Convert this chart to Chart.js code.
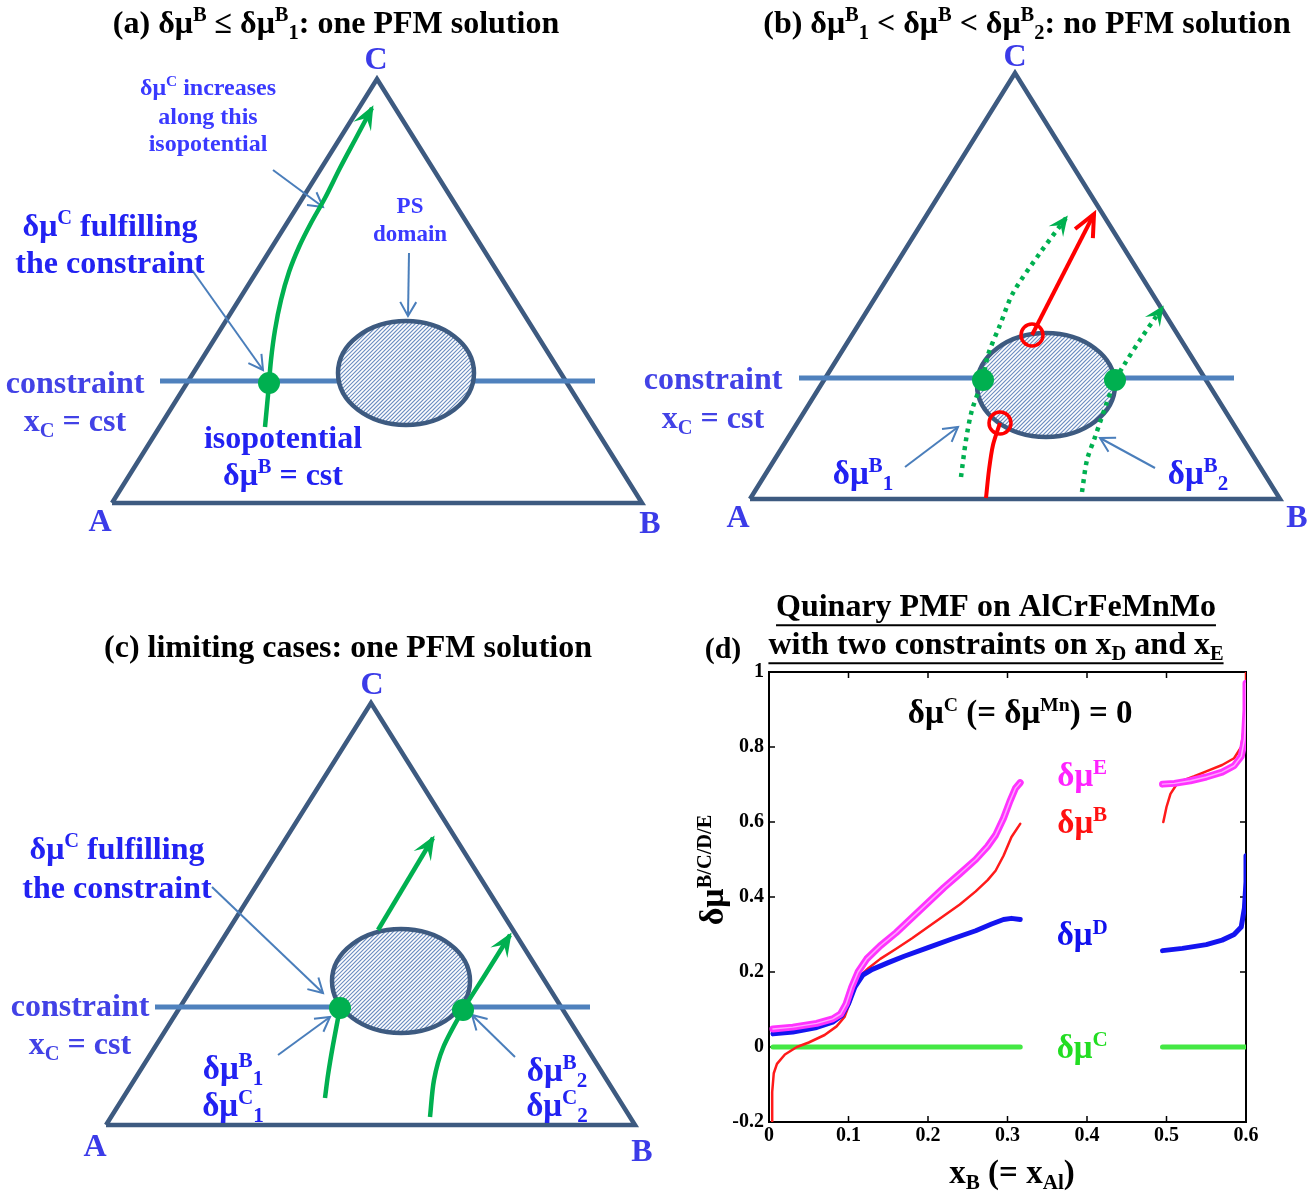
<!DOCTYPE html>
<html><head><meta charset="utf-8">
<script src="https://cdn.jsdelivr.net/npm/chart.js@4.4.1/dist/chart.umd.min.js"></script>
<style>
html,body{margin:0;padding:0;background:#fff;}
#wrap{position:relative;width:1316px;height:1194px;overflow:hidden;}
#c1{position:absolute;left:0;top:0;}
#c2{position:absolute;left:690px;top:580px;}
</style></head><body>
<div id="wrap"><canvas id="c1" width="1316" height="1194"></canvas><canvas id="c2" width="626" height="614"></canvas></div>
<script>
// ===================== Panel (d) data =====================
const xTicks = [0, 0.1, 0.2, 0.3, 0.4, 0.5, 0.6];
const yTicks = [-0.2, 0, 0.2, 0.4, 0.6, 0.8, 1];

const xE_left = [0.005,0.03,0.06,0.08,0.09,0.097,0.104,0.112,0.123,0.14,0.16,0.18,0.2,0.22,0.24,0.26,0.275,0.285,0.295,0.303,0.31,0.316];
const muE_left = [0.048,0.053,0.063,0.075,0.088,0.115,0.16,0.2,0.235,0.27,0.305,0.345,0.385,0.425,0.462,0.5,0.535,0.565,0.61,0.655,0.69,0.705];
const xE_right = [0.495,0.51,0.53,0.55,0.57,0.585,0.594,0.598,0.6,0.6];
const muE_right = [0.701,0.703,0.71,0.72,0.733,0.75,0.775,0.82,0.9,0.97];

const xB_left = [0.004,0.004,0.006,0.01,0.02,0.035,0.05,0.07,0.085,0.095,0.102,0.108,0.115,0.125,0.14,0.16,0.18,0.2,0.22,0.24,0.26,0.275,0.285,0.295,0.305,0.316];
const muB_left = [-0.2,-0.12,-0.07,-0.045,-0.02,0.0,0.012,0.032,0.055,0.08,0.12,0.16,0.19,0.21,0.235,0.262,0.29,0.32,0.35,0.38,0.415,0.445,0.47,0.51,0.56,0.595];
const xB_right = [0.496,0.5,0.505,0.512,0.52,0.535,0.55,0.57,0.585,0.594,0.598,0.6,0.6];
const muB_right = [0.6,0.64,0.675,0.698,0.71,0.722,0.735,0.752,0.77,0.8,0.86,0.93,1.0];

const xD_left = [0.005,0.03,0.06,0.08,0.092,0.1,0.108,0.118,0.13,0.15,0.17,0.2,0.23,0.26,0.28,0.295,0.305,0.316];
const muD_left = [0.035,0.04,0.052,0.066,0.085,0.115,0.16,0.192,0.207,0.225,0.242,0.265,0.288,0.31,0.328,0.34,0.343,0.34];
const xD_right = [0.495,0.52,0.55,0.57,0.585,0.594,0.598,0.6,0.6];
const muD_right = [0.257,0.263,0.273,0.285,0.3,0.32,0.37,0.44,0.51];

const xC_left = [0.005, 0.316];
const muC_left = [0, 0];
const xC_right = [0.495, 0.6];
const muC_right = [0, 0];

// ===================== Panels (a)(b)(c) schematic data (diagram units) =====================
const triA = [[112,503],[642,503],[377,79],[112,503]];
const triB = [[750,499],[1280,499],[1015,73],[750,499]];
const triC = [[106,1125],[635,1125],[371,703],[106,1125]];

const consA = [[160,381],[595,381]];
const consB = [[799,378],[1234,378]];
const consC = [[155,1007],[590,1007]];

const ellCX = [406, 1046, 401];
const ellCY = [373, 385, 981];
const ellRX = [68, 69, 69];
const ellRY = [52, 52, 52];

const isoA = [[265,427],[268,395],[271,360],[275,330],[281,300],[289,272],[299,247],[311,223],[325,198],[340,168],[356,138],[372,108]];
const isoC1 = [[325,1098],[328,1075],[333,1045],[340,1008]];
const isoC2 = [[430,1117],[434,1080],[443,1048],[463,1010],[485,975],[510,935]];
const upC = [[378,930],[433,838]];

const dotB1low = [[961,477],[966,440],[972,410],[983,380]];
const dotB1up = [[983,380],[988,355],[1000,325],[1013,293],[1040,253],[1066,218]];
const dotB2low = [[1082,492],[1087,460],[1095,437],[1106,405],[1115,380]];
const dotB2up = [[1115,380],[1124,365],[1140,340],[1162,308]];
const redLow = [[986,498],[989,470],[993,445],[1000,423]];
const redUp = [[1032,335],[1094,214]];

const greenDots = [[269,383],[983,380],[1115,380],[340,1008],[463,1010]];
const redCircles = [[1032,335],[1000,423]];

const pointers = [
  [[273,170],[323,207]], [[192,270],[263,370]], [[409,253],[408,316]],
  [[905,467],[958,427]], [[1155,468],[1100,438]],
  [[212,887],[323,993]], [[278,1055],[330,1017]], [[515,1057],[472,1015]]
];

// ===================== helpers =====================
const FAM = '"Liberation Serif", "Times New Roman", serif';
const pts = a => a.map(p => ({x:p[0], y:p[1]}));
const TRI = '#3d5a80', CONS = '#4f81bd', GRN = '#00b050', RED = '#ff0000', PTR = '#4a7ebb';

function rich(ctx, x, y, parts, o) {
  const size = o.size, small = size * (o.small || 0.64);
  const ms = []; let total = 0;
  for (const p of parts) {
    const t = typeof p === 'string' ? p : p[0];
    const m = typeof p === 'string' ? '' : p[1];
    const fs = m ? small : size;
    ctx.font = `bold ${fs}px ${FAM}`;
    const wd = ctx.measureText(t).width;
    ms.push([t, m, fs, wd]); total += wd;
  }
  let cx = o.align === 'left' ? x : (o.align === 'right' ? x - total : x - total / 2);
  const x0 = cx;
  const base = y + size * 0.33;
  ctx.fillStyle = o.color; ctx.textBaseline = 'alphabetic'; ctx.textAlign = 'left';
  for (const [t, m, fs, wd] of ms) {
    ctx.font = `bold ${fs}px ${FAM}`;
    const dy = m === 'sup' ? -size * 0.36 : (m === 'sub' ? size * 0.2 : 0);
    ctx.fillText(t, cx, base + dy);
    cx += wd;
  }
  if (o.underline) {
    ctx.strokeStyle = o.color; ctx.lineWidth = 2;
    ctx.beginPath(); ctx.moveTo(x0, base + size*0.3); ctx.lineTo(x0 + total, base + size*0.3); ctx.stroke();
  }
}

function drawHead(ctx, x1, y1, x2, y2, type, color, len, wid, lw) {
  const a = Math.atan2(y2 - y1, x2 - x1);
  ctx.save(); ctx.translate(x2, y2); ctx.rotate(a);
  if (type === 'stealth') {
    ctx.translate(3, 0);
    ctx.beginPath(); ctx.moveTo(0, 0); ctx.lineTo(-len, -wid); ctx.lineTo(-len * 0.6, 0); ctx.lineTo(-len, wid); ctx.closePath();
    ctx.fillStyle = color; ctx.fill();
  } else {
    ctx.beginPath(); ctx.moveTo(-len, -wid); ctx.lineTo(0, 0); ctx.lineTo(-len, wid);
    ctx.strokeStyle = color; ctx.lineWidth = lw; ctx.lineJoin = 'miter'; ctx.stroke();
  }
  ctx.restore();
}

function drawEllipse(chart, i) {
  const {ctx, scales: {x, y}} = chart;
  const cx = x.getPixelForValue(ellCX[i]), cy = y.getPixelForValue(ellCY[i]);
  const rx = Math.abs(x.getPixelForValue(ellCX[i] + ellRX[i]) - cx);
  const ry = Math.abs(y.getPixelForValue(ellCY[i] + ellRY[i]) - cy);
  ctx.save();
  ctx.beginPath(); ctx.ellipse(cx, cy, rx, ry, 0, 0, Math.PI * 2);
  ctx.fillStyle = '#fff'; ctx.fill();
  ctx.clip();
  ctx.strokeStyle = '#6a8cc0'; ctx.lineWidth = 1.1;
  for (let x0 = cx - rx - 2 * ry; x0 < cx + rx; x0 += 4) {
    ctx.beginPath(); ctx.moveTo(x0, cy + ry); ctx.lineTo(x0 + 2 * ry, cy - ry); ctx.stroke();
  }
  ctx.restore();
  ctx.save();
  ctx.beginPath(); ctx.ellipse(cx, cy, rx, ry, 0, 0, Math.PI * 2);
  ctx.strokeStyle = TRI; ctx.lineWidth = 4.5; ctx.stroke();
  ctx.restore();
}

const BL = '#2222f2', LB = '#4242e6', VB = '#3b3be8', SB = '#3a3aff';
const labels = [
  // panel a
  [336, 22, ['(a) δμ', ['B','sup'], ' ≤ δμ', ['B','sup'], ['1','sub'], ': one PFM solution'], 32, '#000'],
  [376, 58, ['C'], 32, VB], [100, 520, ['A'], 32, VB], [650, 522, ['B'], 32, VB],
  [208, 87, ['δμ', ['C','sup'], ' increases'], 24, SB],
  [208, 116, ['along this'], 24, SB],
  [208, 143, ['isopotential'], 24, SB],
  [410, 205, ['PS'], 23, SB], [410, 233, ['domain'], 23, SB],
  [110, 225, ['δμ', ['C','sup'], ' fulfilling'], 32, BL],
  [110, 262, ['the constraint'], 32, BL],
  [75, 382, ['constraint'], 32, LB], [75, 420, ['x', ['C','sub'], ' = cst'], 32, LB],
  [283, 437, ['isopotential'], 32, BL], [283, 474, ['δμ', ['B','sup'], ' = cst'], 32, BL],
  // panel b
  [1027, 22, ['(b) δμ', ['B','sup'], ['1','sub'], ' < δμ', ['B','sup'], ' < δμ', ['B','sup'], ['2','sub'], ': no PFM solution'], 32, '#000'],
  [1015, 55, ['C'], 32, VB], [738, 516, ['A'], 32, VB], [1297, 516, ['B'], 32, VB],
  [713, 378, ['constraint'], 32, LB], [713, 417, ['x', ['C','sub'], ' = cst'], 32, LB],
  [863, 473, ['δμ', ['B','sup'], ['1','sub']], 33, BL], [1198, 473, ['δμ', ['B','sup'], ['2','sub']], 33, BL],
  // panel c
  [348, 646, ['(c) limiting cases: one PFM solution'], 32, '#000'],
  [372, 683, ['C'], 32, VB], [95, 1145, ['A'], 32, VB], [642, 1150, ['B'], 32, VB],
  [117, 848, ['δμ', ['C','sup'], ' fulfilling'], 32, BL], [117, 887, ['the constraint'], 32, BL],
  [80, 1005, ['constraint'], 32, LB], [80, 1043, ['x', ['C','sub'], ' = cst'], 32, LB],
  [233, 1068, ['δμ', ['B','sup'], ['1','sub']], 33, BL], [233, 1105, ['δμ', ['C','sup'], ['1','sub']], 33, BL],
  [557, 1070, ['δμ', ['B','sup'], ['2','sub']], 33, BL], [557, 1105, ['δμ', ['C','sup'], ['2','sub']], 33, BL],
  // panel d titles
  [723, 648, ['(d)'], 30, '#000'],
  [1012, 1172, ['x', ['B','sub'], ' (= x', ['Al','sub'], ')'], 33, '#000'],
];
const underlined = [
  [996, 605, ['Quinary PMF on AlCrFeMnMo'], 32, '#000'],
  [996, 643, ['with two constraints on x', ['D','sub'], ' and x', ['E','sub']], 32, '#000'],
];

// ===================== Chart 1: schematic panels =====================
const lineDS = (arr, color, width, order, extra) => Object.assign({
  data: pts(arr), showLine: true, borderColor: color, borderWidth: width,
  pointRadius: 0, fill: false, order: order, tension: 0
}, extra || {});

const ds1 = [];
[triA, triB, triC].forEach(t => ds1.push(lineDS(t, TRI, 4.5, 10, {borderJoinStyle: 'miter'})));
[consA, consB, consC].forEach((c, i) => ds1.push(lineDS(c, CONS, 5, 9, {ellipseAfter: i})));
pointers.forEach(p => ds1.push(lineDS(p, PTR, 2, 8, {head: 'open', headLen: 14, headWid: 8, headLw: 2})));
ds1.push(lineDS(isoA, GRN, 4.5, 5, {tension: 0.3, head: 'stealth', headLen: 24, headWid: 10}));
ds1.push(lineDS(isoC1, GRN, 4.5, 5, {tension: 0.3}));
ds1.push(lineDS(isoC2, GRN, 4.5, 5, {tension: 0.3, head: 'stealth', headLen: 24, headWid: 10}));
ds1.push(lineDS(upC, GRN, 4.5, 5, {head: 'stealth', headLen: 24, headWid: 10}));
ds1.push(lineDS(dotB1low, GRN, 4.5, 5, {tension: 0.3, borderDash: [4, 5]}));
ds1.push(lineDS(dotB1up, GRN, 4.5, 5, {tension: 0.3, borderDash: [4, 5], head: 'stealth', headLen: 20, headWid: 9}));
ds1.push(lineDS(dotB2low, GRN, 4.5, 5, {tension: 0.3, borderDash: [4, 5]}));
ds1.push(lineDS(dotB2up, GRN, 4.5, 5, {tension: 0.3, borderDash: [4, 5], head: 'stealth', headLen: 20, headWid: 9}));
ds1.push(lineDS(redLow, RED, 4, 5, {tension: 0.3}));
ds1.push(lineDS(redUp, RED, 4, 5, {head: 'open', headLen: 22, headWid: 10, headLw: 4}));
ds1.push({data: pts(greenDots), showLine: false, pointRadius: 11, pointBackgroundColor: GRN, pointBorderWidth: 0, order: 1});
ds1.push({data: pts(redCircles), showLine: false, pointRadius: 11, pointBackgroundColor: 'rgba(0,0,0,0)', pointBorderColor: RED, pointBorderWidth: 3.5, order: 1});

const schematicPlugin = {
  id: 'schematic',
  beforeDraw(chart) {
    const ctx = chart.ctx; ctx.save(); ctx.fillStyle = '#fff'; ctx.fillRect(0, 0, chart.width, chart.height); ctx.restore();
  },
  afterDatasetDraw(chart, args) {
    const ds = chart.data.datasets[args.index];
    const ctx = chart.ctx;
    if (ds.ellipseAfter !== undefined) drawEllipse(chart, ds.ellipseAfter);
    if (ds.head) {
      const d = args.meta.data; const n = d.length;
      drawHead(ctx, d[n - 2].x, d[n - 2].y, d[n - 1].x, d[n - 1].y, ds.head, ds.borderColor, ds.headLen, ds.headWid, ds.headLw);
    }
  },
  afterDraw(chart) {
    const ctx = chart.ctx;
    const sx = chart.scales.x, sy = chart.scales.y;
    labels.forEach(l => rich(ctx, sx.getPixelForValue(l[0]), sy.getPixelForValue(l[1]), l[2], {size: l[3], color: l[4]}));
    underlined.forEach(l => rich(ctx, sx.getPixelForValue(l[0]), sy.getPixelForValue(l[1]), l[2], {size: l[3], color: l[4], underline: true}));
    ctx.save();
    ctx.translate(sx.getPixelForValue(712), sy.getPixelForValue(870));
    ctx.rotate(-Math.PI / 2);
    rich(ctx, 0, 0, ['δμ', ['B/C/D/E', 'sup']], {size: 34, color: '#000', small: 0.6});
    ctx.restore();
  }
};

new Chart(document.getElementById('c1'), {
  type: 'scatter',
  data: {datasets: ds1},
  options: {
    responsive: false, animation: false, events: [],
    layout: {padding: 0, autoPadding: false},
    plugins: {legend: {display: false}, tooltip: {enabled: false}},
    scales: {
      x: {type: 'linear', min: 0, max: 1316, display: false},
      y: {type: 'linear', min: 0, max: 1194, reverse: true, display: false}
    }
  },
  plugins: [schematicPlugin]
});

// ===================== Chart 2: panel (d) =====================
const xy = (xs, ys) => xs.map((v, i) => ({x: v, y: ys[i]}));
const seriesDS = (xs, ys, color, w) => ({data: xy(xs, ys), showLine: true, borderColor: color, borderWidth: w, pointRadius: 0, tension: 0, borderJoinStyle: 'round', borderCapStyle: 'round'});
const MAG = '#ff33ff', MAGIN = '#ffa6ff', REDD = '#ff1a1a', BLU = '#1414f0', GRE = '#44e844';

const frameTicks = {
  id: 'frameTicks',
  beforeDatasetsDraw(chart) {
    const {ctx, chartArea: a, scales: {x, y}} = chart;
    ctx.save(); ctx.strokeStyle = '#000'; ctx.lineWidth = 2;
    ctx.strokeRect(a.left, a.top, a.right - a.left, a.bottom - a.top);
    ctx.lineWidth = 1.5;
    xTicks.forEach(v => { const px = x.getPixelForValue(v); ctx.beginPath(); ctx.moveTo(px, a.bottom); ctx.lineTo(px, a.bottom - 6); ctx.moveTo(px, a.top); ctx.lineTo(px, a.top + 6); ctx.stroke(); });
    yTicks.forEach(v => { const py = y.getPixelForValue(v); ctx.beginPath(); ctx.moveTo(a.left, py); ctx.lineTo(a.left + 6, py); ctx.moveTo(a.right, py); ctx.lineTo(a.right - 6, py); ctx.stroke(); });
    ctx.restore();
  },
  afterDatasetsDraw(chart) {
    const {ctx, scales: {x, y}} = chart;
    const P = (vx, vy) => [x.getPixelForValue(vx), y.getPixelForValue(vy)];
    let p = P(0.316, 0.893); rich(ctx, p[0], p[1], ['δμ', ['C','sup'], ' (= δμ', ['Mn','sup'], ') = 0'], {size: 33, color: '#000', small: 0.6});
    p = P(0.394, 0.725); rich(ctx, p[0], p[1], ['δμ', ['E','sup']], {size: 33, color: '#ff22ff'});
    p = P(0.394, 0.60); rich(ctx, p[0], p[1], ['δμ', ['B','sup']], {size: 33, color: '#ff1111'});
    p = P(0.394, 0.30); rich(ctx, p[0], p[1], ['δμ', ['D','sup']], {size: 33, color: '#1111ee'});
    p = P(0.394, 0.0); rich(ctx, p[0], p[1], ['δμ', ['C','sup']], {size: 33, color: '#22dd22'});
  }
};

const tickFont = {family: FAM, weight: 'bold', size: 20};
new Chart(document.getElementById('c2'), {
  type: 'scatter',
  data: {datasets: [
    seriesDS(xC_left, muC_left, GRE, 5), seriesDS(xC_right, muC_right, GRE, 5),
    seriesDS(xB_left, muB_left, REDD, 2.5), seriesDS(xB_right, muB_right, REDD, 2.5),
    seriesDS(xD_left, muD_left, BLU, 5), seriesDS(xD_right, muD_right, BLU, 5),
    seriesDS(xE_left, muE_left, MAG, 7), seriesDS(xE_right, muE_right, MAG, 7),
    seriesDS(xE_left, muE_left, MAGIN, 1.5), seriesDS(xE_right, muE_right, MAGIN, 1.5)
  ].reverse()},
  options: {
    responsive: false, animation: false, events: [],
    layout: {padding: {top: 92, right: 70, left: 0, bottom: 0}, autoPadding: false},
    plugins: {legend: {display: false}, tooltip: {enabled: false}},
    scales: {
      x: {type: 'linear', min: 0, max: 0.6,
        afterBuildTicks: s => { s.ticks = xTicks.map(v => ({value: v})); },
        ticks: {font: tickFont, color: '#000', padding: 2, maxRotation: 0, autoSkip: false, callback: v => String(Math.round(v * 10) / 10)},
        grid: {display: false, drawTicks: false}, border: {display: false},
        afterFit: s => { s.height = 72; }},
      y: {type: 'linear', min: -0.2, max: 1,
        afterBuildTicks: s => { s.ticks = yTicks.map(v => ({value: v})); },
        ticks: {font: tickFont, color: '#000', padding: 5, autoSkip: false, callback: v => String(Math.round(v * 10) / 10)},
        grid: {display: false, drawTicks: false}, border: {display: false},
        afterFit: s => { s.width = 79; }}
    }
  },
  plugins: [frameTicks]
});
</script>
</body></html>
